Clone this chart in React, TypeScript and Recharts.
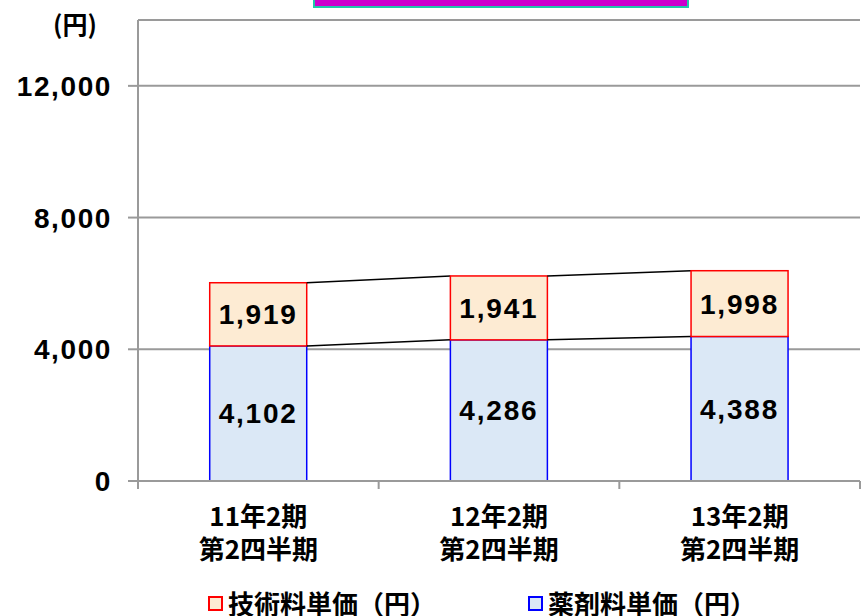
import React from 'react';
import { ComposedChart, Bar, XAxis, YAxis, CartesianGrid, Legend, LabelList } from 'recharts';

const periodLabels = ['11年2期', '12年2期', '13年2期'];
const quarterLabels = ['第2四半期', '第2四半期', '第2四半期'];
const drugValues = [4102, 4286, 4388];
const techValues = [1919, 1941, 1998];
const yTicks = [0, 4000, 8000, 12000];
const techName = '技術料単価（円）';
const drugName = '薬剤料単価（円）';
const unitLabel = '(円)';

const W = 862;
const H = 616;
const MARGIN = { top: 20, right: 2, bottom: 0, left: 0 };
const Y_W = 138;
const LEGEND_H = 30;
const PLOT_BOTTOM = 481;
const X_H = H - PLOT_BOTTOM - LEGEND_H - MARGIN.bottom;
const PLOT_W = W - MARGIN.left - MARGIN.right - Y_W;
const BAND = PLOT_W / periodLabels.length;

const TECH_FILL = '#FDEBD3';
const TECH_STROKE = '#FF0000';
const DRUG_FILL = '#DBE8F6';
const DRUG_STROKE = '#0000FF';
const GRID = '#9a9a9a';
const NUM_FONT = '"Liberation Sans", Arial, sans-serif';
const CJK_FONT = '"Noto Sans CJK JP", sans-serif';

const data = periodLabels.map((p, i) => ({
  name: p,
  sub: quarterLabels[i],
  drug: drugValues[i],
  tech: techValues[i],
}));

const fmt = (v: any) => Number(v).toLocaleString('en-US');

const XTick = (props: any) => {
  const { x, y, payload, index } = props;
  const i = payload && payload.index != null ? payload.index : index;
  const half = BAND / 2;
  const common = {
    textAnchor: 'middle' as const,
    dominantBaseline: 'central' as const,
    fontFamily: CJK_FONT,
    fontWeight: 'bold',
    fontSize: 26,
    fill: '#000',
  };
  return (
    <g>
      <line x1={x - half} x2={x - half} y1={y} y2={y + 8} stroke={GRID} strokeWidth={2} />
      {i === periodLabels.length - 1 && (
        <line x1={x + half} x2={x + half} y1={y} y2={y + 8} stroke={GRID} strokeWidth={2} />
      )}
      <text x={x} y={y + 33} {...common}>{periodLabels[i]}</text>
      <text x={x} y={y + 66} {...common}>{quarterLabels[i]}</text>
    </g>
  );
};

const DrugShape = (props: any) => {
  const { x, y, width, height } = props;
  return (
    <rect x={x} y={y} width={width} height={height} fill={DRUG_FILL} stroke={DRUG_STROKE} strokeWidth={1.5} />
  );
};

const TechShape = (props: any) => {
  const { x, y, width, height, index } = props;
  const k = height / techValues[index];
  const base = y + height + drugValues[index] * k;
  const lines: any[] = [];
  if (index < techValues.length - 1) {
    const nx = x + BAND;
    const nTop = base - (drugValues[index + 1] + techValues[index + 1]) * k;
    const nMid = base - drugValues[index + 1] * k;
    lines.push(<line key="t" x1={x + width} y1={y} x2={nx} y2={nTop} stroke="#000" strokeWidth={1.5} />);
    lines.push(<line key="m" x1={x + width} y1={y + height} x2={nx} y2={nMid} stroke="#000" strokeWidth={1.5} />);
  }
  return (
    <g>
      <rect x={x} y={y} width={width} height={height} fill={TECH_FILL} stroke={TECH_STROKE} strokeWidth={1.5} />
      {lines}
    </g>
  );
};

const legendItems = [
  { name: techName, fill: TECH_FILL, stroke: TECH_STROKE, left: 208 },
  { name: drugName, fill: DRUG_FILL, stroke: DRUG_STROKE, left: 528 },
];

const LegendContent = () => (
  <div style={{ position: 'relative', width: W, height: LEGEND_H }}>
    {legendItems.map((it) => (
      <div
        key={it.name}
        style={{
          position: 'absolute',
          left: it.left,
          top: 2,
          height: 30,
          display: 'flex',
          alignItems: 'center',
          whiteSpace: 'nowrap',
        }}
      >
        <span
          style={{
            display: 'inline-block',
            width: 11,
            height: 11,
            border: `2px solid ${it.stroke}`,
            background: it.fill,
            marginRight: 5,
          }}
        />
        <span style={{ fontFamily: CJK_FONT, fontWeight: 'bold', fontSize: 26, lineHeight: '30px', color: '#000' }}>
          {it.name}
        </span>
      </div>
    ))}
  </div>
);

const UnitLabel = (props: any) => {
  const vb = props.viewBox || { x: 0, y: MARGIN.top };
  return (
    <text
      x={(vb.x || 0) + 75}
      y={(vb.y || MARGIN.top) + 3}
      textAnchor="middle"
      dominantBaseline="central"
      fontFamily={CJK_FONT}
      fontWeight="bold"
      fontSize={25}
      fill="#000"
    >
      {unitLabel}
    </text>
  );
};

export default function App() {
  return (
    <div style={{ position: 'absolute', left: 0, top: 0, width: W, height: H, overflow: 'hidden', background: '#fff' }}>
      <div
        style={{
          position: 'absolute',
          left: 313,
          top: -30,
          width: 372,
          height: 34,
          background: '#CC00CC',
          border: '2px solid #1FC8A8',
          zIndex: 2,
        }}
      />
      <ComposedChart width={W} height={H} data={data} margin={MARGIN} barCategoryGap="29.8%">
        <CartesianGrid horizontal vertical={false} stroke={GRID} strokeWidth={2} />
        <XAxis
          dataKey="name"
          height={X_H}
          interval={0}
          tickLine={false}
          tickSize={0}
          tickMargin={0}
          axisLine={{ stroke: GRID, strokeWidth: 2 }}
          tick={<XTick />}
        />
        <YAxis
          width={Y_W}
          domain={[0, 14000]}
          ticks={yTicks}
          interval={0}
          allowDataOverflow
          tickSize={10}
          tickMargin={16}
          axisLine={{ stroke: GRID, strokeWidth: 2 }}
          tickLine={{ stroke: GRID, strokeWidth: 2 }}
          tick={{ fill: '#000', fontSize: 28, fontFamily: NUM_FONT, fontWeight: 'bold', letterSpacing: 1.6 }}
          tickFormatter={fmt}
          label={<UnitLabel />}
        />
        <Legend verticalAlign="bottom" align="left" height={LEGEND_H} wrapperStyle={{ height: LEGEND_H }} content={<LegendContent />} />
        <Bar dataKey="drug" name={drugName} stackId="a" fill={DRUG_FILL} stroke={DRUG_STROKE} shape={<DrugShape />} isAnimationActive={false}>
          <LabelList dataKey="drug" position="center" fill="#000" fontSize={28} fontWeight="bold" letterSpacing={1.8} fontFamily={NUM_FONT} formatter={fmt} />
        </Bar>
        <Bar dataKey="tech" name={techName} stackId="a" fill={TECH_FILL} stroke={TECH_STROKE} shape={<TechShape />} isAnimationActive={false}>
          <LabelList dataKey="tech" position="center" fill="#000" fontSize={28} fontWeight="bold" letterSpacing={1.8} fontFamily={NUM_FONT} formatter={fmt} />
        </Bar>
      </ComposedChart>
    </div>
  );
}
